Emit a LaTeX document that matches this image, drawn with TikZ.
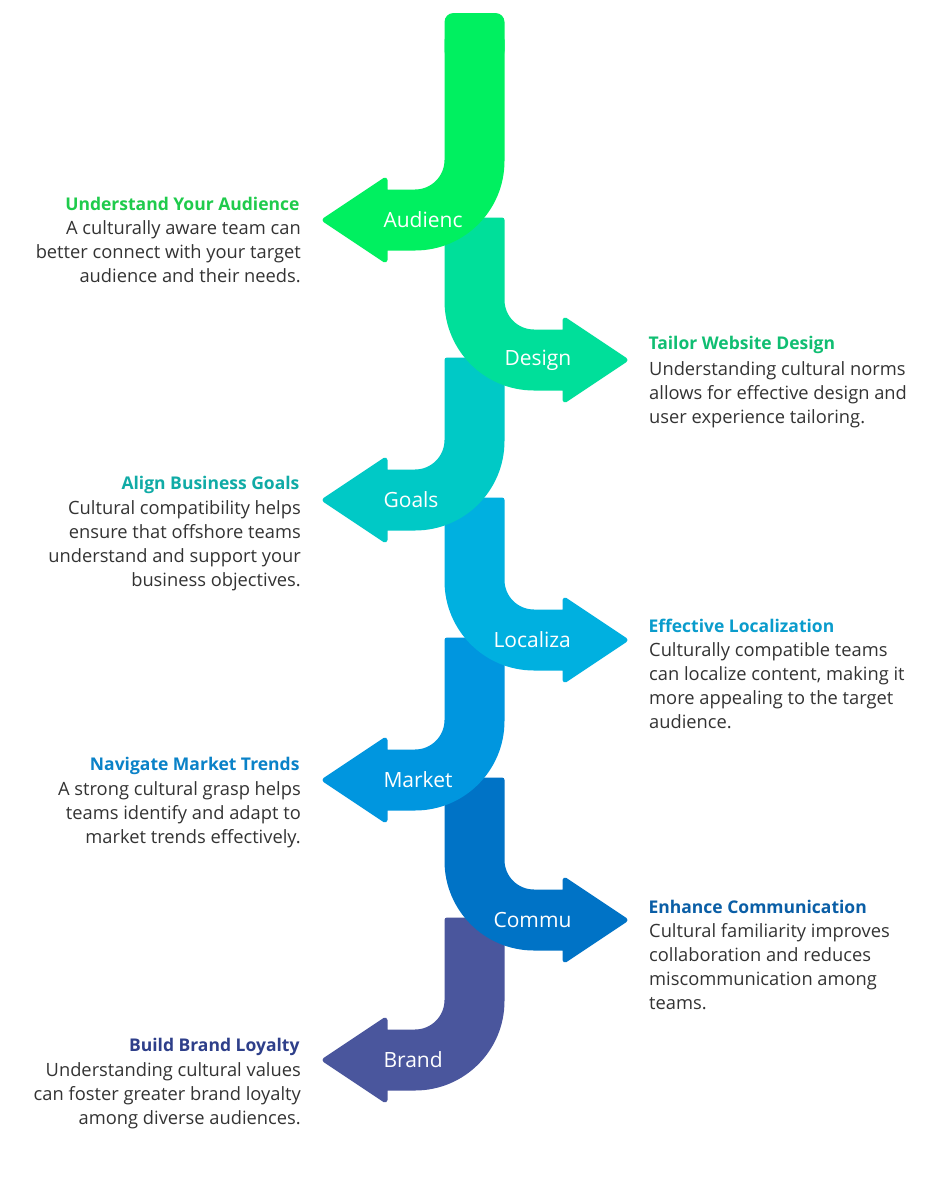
\documentclass[tikz,border=0pt]{standalone}
\usepackage{fontspec}
\setmainfont{Open Sans}
\definecolor{c1}{HTML}{00F060}
\definecolor{c2}{HTML}{00DF9A}
\definecolor{c3}{HTML}{00C9C6}
\definecolor{c4}{HTML}{00B0E0}
\definecolor{c5}{HTML}{0096DF}
\definecolor{c6}{HTML}{0073C6}
\definecolor{c7}{HTML}{4A569D}
\definecolor{t1}{HTML}{1FCB4C}
\definecolor{t2}{HTML}{10BE72}
\definecolor{t3}{HTML}{10ABA6}
\definecolor{t4}{HTML}{0A9CCC}
\definecolor{t5}{HTML}{0A82C8}
\definecolor{t6}{HTML}{0A5EA6}
\definecolor{t7}{HTML}{2E3F8A}
\definecolor{body}{HTML}{333333}
\begin{document}
\begin{tikzpicture}[x=1pt,y=-1pt,
  seg/.style={line width=5pt,line join=round},
  lab/.style={text=white,font=\fontsize{21}{24}\selectfont},
  ttl/.style={font=\fontsize{17.5}{21}\selectfont\bfseries},
  txt/.style={text=body,font=\fontsize{18.3}{24}\selectfont},
]
\useasboundingbox[fill=white] (0,0) rectangle (950,1200);
\newcommand{\lseg}[3]{% ytop, c, color
  \fill[#3,draw=#3,seg] (447,#1) -- (447,#2-60) arc[start angle=0,end angle=90,radius=32]
   -- (385,#2-28) -- (385,#2-40) -- (325,#2) -- (385,#2+40) -- (385,#2+28) -- (415,#2+28)
   arc[start angle=90,end angle=0,radius=87] -- (502,#1) -- cycle;}
\newcommand{\rseg}[3]{%
  \fill[#3,draw=#3,seg] (447,#1) -- (447,#2-59) arc[start angle=180,end angle=90,radius=87]
   -- (565,#2+28) -- (565,#2+40) -- (625,#2) -- (565,#2-40) -- (565,#2-28) -- (534,#2-28)
   arc[start angle=90,end angle=180,radius=32] -- (502,#1) -- cycle;}
\lseg{920}{1060}{c7}
\rseg{780}{920}{c6}
\lseg{640}{780}{c5}
\rseg{500}{640}{c4}
\lseg{360}{500}{c3}
\rseg{220}{360}{c2}
\fill[c1,draw=c1,seg] (447,40) -- (447,160) arc[start angle=0,end angle=90,radius=32]
   -- (385,192) -- (385,180) -- (325,220) -- (385,260) -- (385,248) -- (415,248)
   arc[start angle=90,end angle=0,radius=87] -- (502,40) -- cycle;
\fill[c1,rounded corners=9pt] (444.5,13) rectangle (504.5,60);
\node[lab,anchor=west] (l1) at (380,220) {Audienc};
\node[lab,anchor=west] (l2) at (501,360) {Design};
\node[lab,anchor=west] (l3) at (380,500) {Goals};
\node[lab,anchor=west] (l4) at (490,640) {Localiza};
\node[lab,anchor=west] (l5) at (380,780) {Market};
\node[lab,anchor=west] (l6) at (490,920) {Commu};
\node[lab,anchor=west] (l7) at (380,1060) {Brand};
% left texts
\node[ttl,text=t1,anchor=east] (h1) at (303,204) {Understand Your Audience};
\node[txt,anchor=north east,align=right,inner sep=0] (b1) at (301,220) {A culturally aware team can\\better connect with your target\\audience and their needs.};
\node[ttl,text=t3,anchor=east] (h3) at (303,485) {Align Business Goals};
\node[txt,anchor=north east,align=right,inner sep=0] (b3) at (301,500) {Cultural compatibility helps\\ensure that offshore teams\\understand and support your\\business objectives.};
\node[ttl,text=t5,anchor=east] (h5) at (303,766) {Navigate Market Trends};
\node[txt,anchor=north east,align=right,inner sep=0] (b5) at (301,781) {A strong cultural grasp helps\\teams identify and adapt to\\market trends effectively.};
\node[ttl,text=t7,anchor=east] (h7) at (303,1047) {Build Brand Loyalty};
\node[txt,anchor=north east,align=right,inner sep=0] (b7) at (301,1062) {Understanding cultural values\\can foster greater brand loyalty\\among diverse audiences.};
% right texts
\node[ttl,text=t2,anchor=west] (h2) at (645,345) {Tailor Website Design};
\node[txt,anchor=north west,align=left,inner sep=0] (b2) at (649,361) {Understanding cultural norms\\allows for effective design and\\user experience tailoring.};
\node[ttl,text=t4,anchor=west] (h4) at (645,626) {Effective Localization};
\node[txt,anchor=north west,align=left,inner sep=0] (b4) at (649,642) {Culturally compatible teams\\can localize content, making it\\more appealing to the target\\audience.};
\node[ttl,text=t6,anchor=west] (h6) at (645,907) {Enhance Communication};
\node[txt,anchor=north west,align=left,inner sep=0] (b6) at (649,923) {Cultural familiarity improves\\collaboration and reduces\\miscommunication among\\teams.};
\end{tikzpicture}
\end{document}
